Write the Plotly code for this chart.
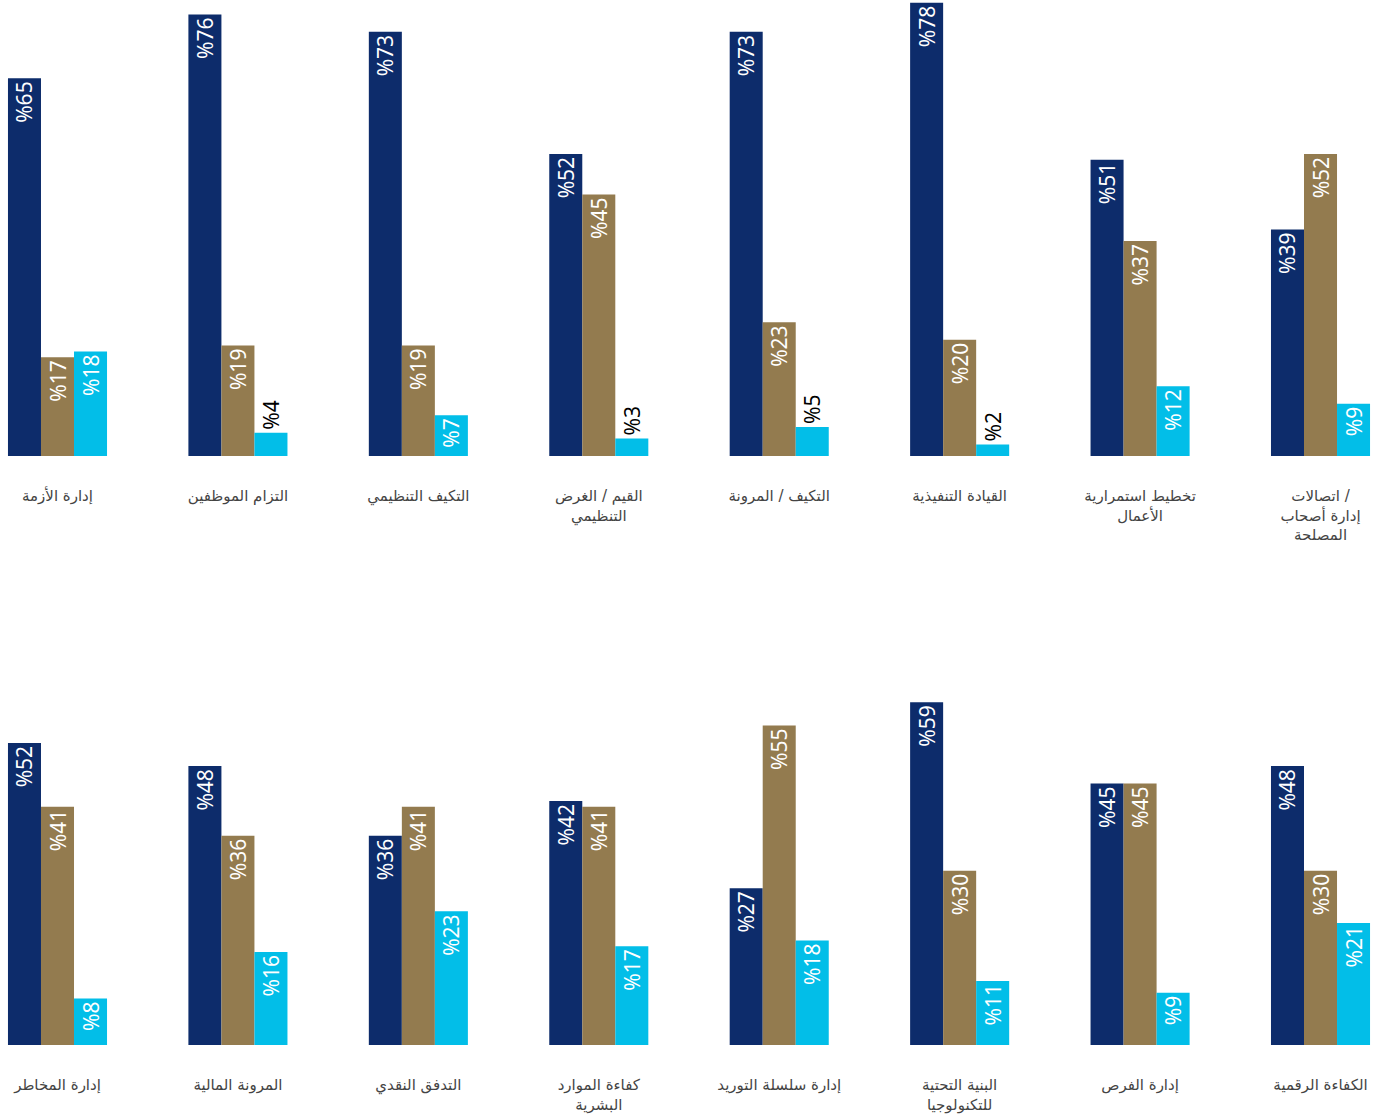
import plotly.graph_objects as go

top_categories = ["إدارة الأزمة", "التزام الموظفين", "التكيف التنظيمي", "القيم / الغرض<br>التنظيمي",
                  "التكيف / المرونة", "القيادة التنفيذية", "تخطيط استمرارية<br>الأعمال",
                  "اتصالات /<br>إدارة أصحاب<br>المصلحة"]
top_navy = [65, 76, 73, 52, 73, 78, 51, 39]
top_gold = [17, 19, 19, 45, 23, 20, 37, 52]
top_cyan = [18, 4, 7, 3, 5, 2, 12, 9]

bottom_categories = ["إدارة المخاطر", "المرونة المالية", "التدفق النقدي", "كفاءة الموارد<br>البشرية",
                     "إدارة سلسلة التوريد", "البنية التحتية<br>للتكنولوجيا", "إدارة الفرص", "الكفاءة الرقمية"]
bottom_navy = [52, 48, 36, 42, 27, 59, 45, 48]
bottom_gold = [41, 36, 41, 41, 55, 30, 45, 30]
bottom_cyan = [8, 16, 23, 17, 18, 11, 9, 21]

colors = ["#0d2c6b", "#937b4f", "#02bee8"]
positions = list(range(8))

fig = go.Figure()

def add_row(vals_list, xa, ya):
    for vals, col in zip(vals_list, colors):
        fig.add_trace(go.Bar(
            x=positions, y=vals, marker=dict(color=col, line=dict(width=0)),
            text=[f"%{v}" for v in vals],
            textposition=["outside" if v <= 5 else "inside" for v in vals],
            insidetextanchor="end", textangle=-90,
            insidetextfont=dict(color="white", size=21, family="Noto Sans"),
            outsidetextfont=dict(color="black", size=21, family="Noto Sans"),
            constraintext="none", cliponaxis=False,
            xaxis=xa, yaxis=ya, showlegend=False, hoverinfo="skip"))

add_row([top_navy, top_gold, top_cyan], "x", "y")
add_row([bottom_navy, bottom_gold, bottom_cyan], "x2", "y2")

H = 1115
xrange = [-57.5 / 180.43, (1383 - 57.5) / 180.43]
common_x = dict(range=xrange, tickmode="array", tickvals=positions, showgrid=False,
                zeroline=False, showline=False, ticks="outside", ticklen=26,
                tickcolor="rgba(0,0,0,0)", tickfont=dict(size=15, color="#444444", family="DejaVu Sans"))
fig.update_layout(
    width=1383, height=H, margin=dict(l=0, r=0, t=0, b=0),
    paper_bgcolor="white", plot_bgcolor="white",
    barmode="group", bargap=0.451, bargroupgap=0,
    xaxis=dict(**common_x, ticktext=top_categories, anchor="y"),
    yaxis=dict(domain=[(H - 456) / H, 1.0], range=[0, 456 / 5.81], visible=False, anchor="x"),
    xaxis2=dict(**common_x, ticktext=bottom_categories, anchor="y2"),
    yaxis2=dict(domain=[(H - 1045) / H, (H - 600) / H], range=[0, 445 / 5.81], visible=False, anchor="x2"),
)

fig.write_html("out.html")
